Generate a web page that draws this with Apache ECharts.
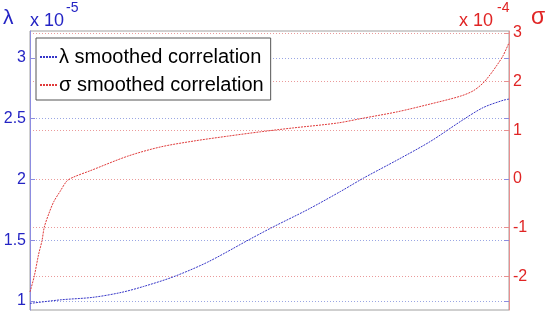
<!DOCTYPE html>
<html><head><meta charset="utf-8">
<script src="https://cdn.jsdelivr.net/npm/echarts@6/dist/echarts.min.js"></script>
<style>html,body{margin:0;padding:0;background:#fff}#c{width:550px;height:318px}</style>
</head><body><div id="c"></div>
<script>
// λ smoothed correlation (x 1e-5), x in 0..100
const lambdaX = [0, 6.5, 13.1, 19, 23.75, 30, 37.1, 46, 50.8, 57.9, 64.8, 69.6, 76.7, 83.5, 90.4, 94.6, 98.75, 100];
const lambdaY = [0.98, 1.01, 1.03, 1.07, 1.12, 1.2, 1.32, 1.51, 1.61, 1.75, 1.9, 2.01, 2.16, 2.31, 2.49, 2.59, 2.65, 2.66];
// σ smoothed correlation (x 1e-4)
const sigmaX = [0, 0.9, 1.81, 2.5, 2.98, 3.9, 4.94, 6.31, 7.71, 9.1, 12.56, 20.42, 27.29, 34.17, 41.25, 48.13, 55, 64.17, 69.58, 76.67, 83.54, 89.79, 92.5, 94.58, 96.04, 97.5, 98.75, 100];
const sigmaY = [-2.32, -1.99, -1.54, -1.27, -0.99, -0.72, -0.47, -0.25, -0.04, 0.04, 0.17, 0.47, 0.66, 0.78, 0.88, 0.97, 1.05, 1.15, 1.25, 1.38, 1.54, 1.70, 1.81, 1.97, 2.14, 2.34, 2.53, 2.80];
const leftTicks = [1, 1.5, 2, 2.5, 3];
const rightTicks = [-2, -1, 0, 1, 2, 3];
const seriesNames = ['λ smoothed correlation', 'σ smoothed correlation'];

const FONT = "'Liberation Sans', Arial, sans-serif";
const BLUE = '#2424c4', RED = '#e02424';
const chart = echarts.init(document.getElementById('c'));
chart.setOption({
  animation: false,
  backgroundColor: '#fff',
  grid: {left: 30, right: 41, top: 31, bottom: 8, show: true, borderColor: '#a0a0a0', borderWidth: 1},
  xAxis: {type: 'value', min: 0, max: 100, axisLine: {show: false}, axisTick: {show: false}, axisLabel: {show: false}, splitLine: {show: false}},
  yAxis: [
    {type: 'value', position: 'left', min: 0.926, max: 3.22,
     axisLine: {show: true, lineStyle: {color: '#8c8ce0'}},
     axisTick: {show: true, inside: true, length: 5, lineStyle: {color: '#8c8ce0'}, customValues: leftTicks},
     axisLabel: {customValues: leftTicks, color: BLUE, fontSize: 16, fontFamily: FONT, margin: 4},
     splitLine: {show: true, lineStyle: {color: '#9aa6e4', type: [1, 2], width: 1}}},
    {type: 'value', position: 'right', min: -2.69, max: 3.04,
     axisLine: {show: true, lineStyle: {color: '#e89090'}},
     axisTick: {show: true, inside: true, length: 5, lineStyle: {color: '#e89090'}, customValues: rightTicks},
     axisLabel: {customValues: rightTicks, color: RED, fontSize: 16, fontFamily: FONT, margin: 4},
     splitLine: {show: true, lineStyle: {color: '#ea9a9a', type: [1, 2], width: 1}}},
    {type: 'value', position: 'right', min: 0.926, max: 3.22,
     axisLine: {show: false},
     axisTick: {show: true, inside: true, length: 5, lineStyle: {color: '#8c8ce0'}, customValues: leftTicks},
     axisLabel: {show: false}, splitLine: {show: false}}
  ],
  legend: {
    orient: 'vertical', left: 36, top: 38,
    padding: [8, 7, 4, 3], itemGap: 6, itemWidth: 18, itemHeight: 14,
    borderColor: '#555', borderWidth: 1, backgroundColor: '#fff',
    itemStyle: {opacity: 0},
    textStyle: {fontSize: 20, fontFamily: FONT, color: '#000', padding: [0, 0, 0, -4], lineHeight: 22},
    data: seriesNames
  },
  graphic: [
    {type: 'text', left: 3, top: 8, style: {text: 'λ', fontSize: 21, fontFamily: FONT, fill: BLUE}},
    {type: 'text', left: 30, top: 12, style: {text: 'x 10', fontSize: 18, fontFamily: FONT, fill: BLUE}},
    {type: 'text', left: 66, top: 1, style: {text: '-5', fontSize: 14, fontFamily: FONT, fill: BLUE}},
    {type: 'text', left: 459, top: 12, style: {text: 'x 10', fontSize: 18, fontFamily: FONT, fill: RED}},
    {type: 'text', left: 497, top: 1, style: {text: '-4', fontSize: 14, fontFamily: FONT, fill: RED}},
    {type: 'text', left: 531, top: 6, style: {text: 'σ', fontSize: 23, fontFamily: FONT, fill: RED}}
  ],
  series: [
    {name: seriesNames[0], type: 'line', yAxisIndex: 0, showSymbol: false, symbol: 'none', smooth: 0.3,
     itemStyle: {color: '#3535c8'}, lineStyle: {color: '#3535c8', width: 1, type: [2, 1]},
     data: lambdaX.map((x, i) => [x, lambdaY[i]])},
    {name: seriesNames[1], type: 'line', yAxisIndex: 1, showSymbol: false, symbol: 'none', smooth: 0.3,
     itemStyle: {color: '#e03a3a'}, lineStyle: {color: '#e03a3a', width: 1, type: [2, 1]},
     data: sigmaX.map((x, i) => [x, sigmaY[i]])}
  ]
});
</script></body></html>
